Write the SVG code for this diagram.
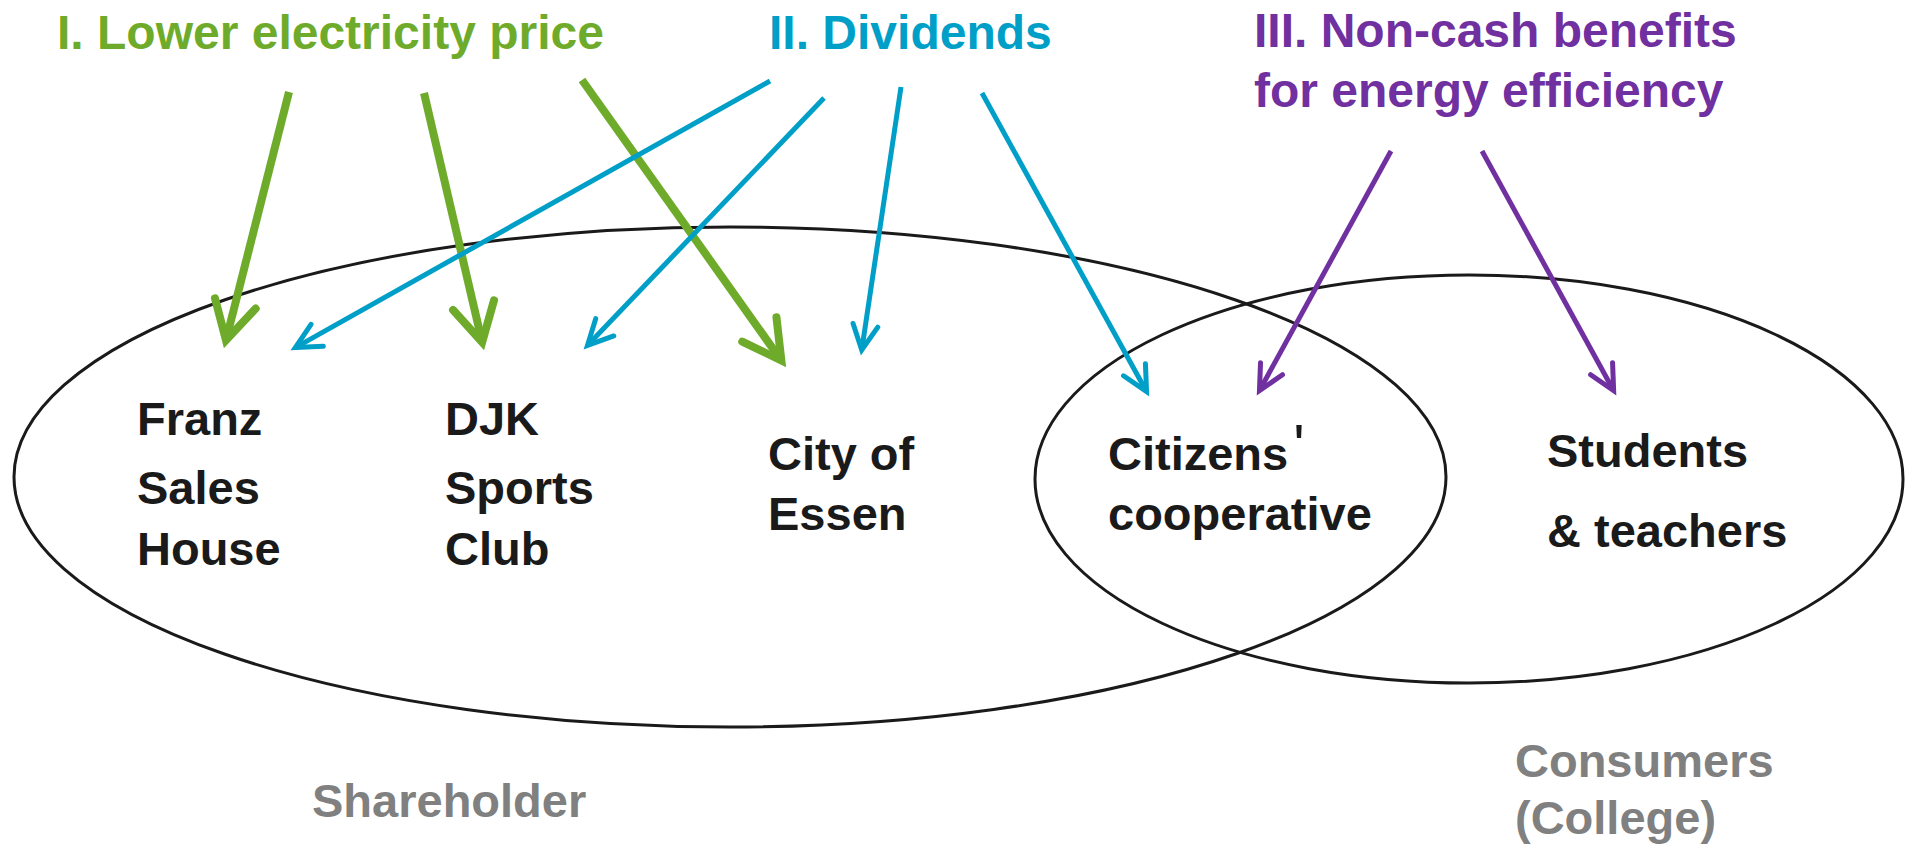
<svg xmlns="http://www.w3.org/2000/svg" width="1905" height="846" viewBox="0 0 1905 846">
  <style>
    text { font-family: "Liberation Sans", Arial, sans-serif; font-weight: bold; }
    .title { font-size: 48px; }
    .green { fill: #6fab2a; }
    .blue { fill: #009fc8; }
    .purple { fill: #7030a0; }
    .label { font-size: 47px; fill: #1a1a1a; }
    .group-name { font-size: 47px; fill: #808080; }
    .set { fill: none; stroke: #1a1a1a; stroke-width: 3; }
    .flow-g { stroke: #6fab2a; stroke-width: 8; fill: none; marker-end: url(#head-g); }
    .flow-b { stroke: #009fc8; stroke-width: 5; fill: none; marker-end: url(#head-b); }
    .flow-p { stroke: #7030a0; stroke-width: 5; fill: none; marker-end: url(#head-p); }
  </style>
  <defs>
    <!-- open V heads; the line stops inside the head so the tip stays sharp -->
    <marker id="head-g" markerUnits="userSpaceOnUse" viewBox="-50 -30 60 60" markerWidth="60" markerHeight="60" refX="0" refY="0" orient="auto" overflow="visible">
      <path d="M -34,-21 L 4,0 L -34,21" fill="none" stroke="#6fab2a" stroke-width="8" stroke-linecap="round" stroke-linejoin="miter"/>
    </marker>
    <marker id="head-b" markerUnits="userSpaceOnUse" viewBox="-40 -20 50 40" markerWidth="50" markerHeight="40" refX="0" refY="0" orient="auto" overflow="visible">
      <path d="M -22,-12.5 L 3,0 L -22,12.5" fill="none" stroke="#009fc8" stroke-width="5" stroke-linecap="round" stroke-linejoin="miter"/>
    </marker>
    <marker id="head-p" markerUnits="userSpaceOnUse" viewBox="-40 -20 50 40" markerWidth="50" markerHeight="40" refX="0" refY="0" orient="auto" overflow="visible">
      <path d="M -22,-12.5 L 3,0 L -22,12.5" fill="none" stroke="#7030a0" stroke-width="5" stroke-linecap="round" stroke-linejoin="miter"/>
    </marker>
  </defs>

  <rect width="1905" height="846" fill="#ffffff"/>

  <!-- the two overlapping sets -->
  <g id="shareholder-set">
    <ellipse class="set" cx="730" cy="477" rx="716" ry="250"/>
    <text class="group-name" x="312" y="817">Shareholder</text>
  </g>
  <g id="consumer-set">
    <ellipse class="set" cx="1469" cy="479" rx="434" ry="204"/>
    <text class="group-name" x="1515" y="777">Consumers</text>
    <text class="group-name" x="1515" y="834">(College)</text>
  </g>

  <!-- benefit sources -->
  <g id="benefit-price">
    <text class="title green" x="57" y="49">I. Lower electricity price</text>
  </g>
  <g id="benefit-dividends">
    <text class="title blue" x="769" y="49">II. Dividends</text>
  </g>
  <g id="benefit-noncash">
    <text class="title purple" x="1254" y="47">III. Non-cash benefits</text>
    <text class="title purple" x="1254" y="107">for energy efficiency</text>
  </g>

  <!-- members -->
  <g id="franz-sales-house">
    <text class="label" x="137" y="435">Franz</text>
    <text class="label" x="137" y="504">Sales</text>
    <text class="label" x="137" y="565">House</text>
  </g>
  <g id="djk-sports-club">
    <text class="label" x="445" y="435">DJK</text>
    <text class="label" x="445" y="504">Sports</text>
    <text class="label" x="445" y="565">Club</text>
  </g>
  <g id="city-of-essen">
    <text class="label" x="768" y="470">City of</text>
    <text class="label" x="768" y="530">Essen</text>
  </g>
  <g id="citizens-cooperative">
    <text class="label" x="1108" y="470">Citizens<tspan font-weight="normal" font-size="60" dx="5" dy="-4">'</tspan></text>
    <text class="label" x="1108" y="530">cooperative</text>
  </g>
  <g id="students-teachers">
    <text class="label" x="1547" y="467">Students</text>
    <text class="label" x="1547" y="547">&amp; teachers</text>
  </g>

  <!-- benefit flows -->
  <g id="connectors">
    <line class="flow-g" x1="289" y1="92" x2="226.95" y2="336.37"/>
    <line class="flow-g" x1="424" y1="93" x2="481.27" y2="338.31"/>
    <line class="flow-g" x1="582" y1="80" x2="779.05" y2="357.22"/>
    <line class="flow-b" x1="770" y1="81" x2="297.98" y2="346.08"/>
    <line class="flow-b" x1="824" y1="98" x2="589.53" y2="343.22"/>
    <line class="flow-b" x1="901" y1="87" x2="862.18" y2="347.09"/>
    <line class="flow-b" x1="982" y1="93" x2="1145.1" y2="389"/>
    <line class="flow-p" x1="1391" y1="151" x2="1260.9" y2="388"/>
    <line class="flow-p" x1="1482" y1="151" x2="1612.2" y2="388"/>
  </g>
</svg>
